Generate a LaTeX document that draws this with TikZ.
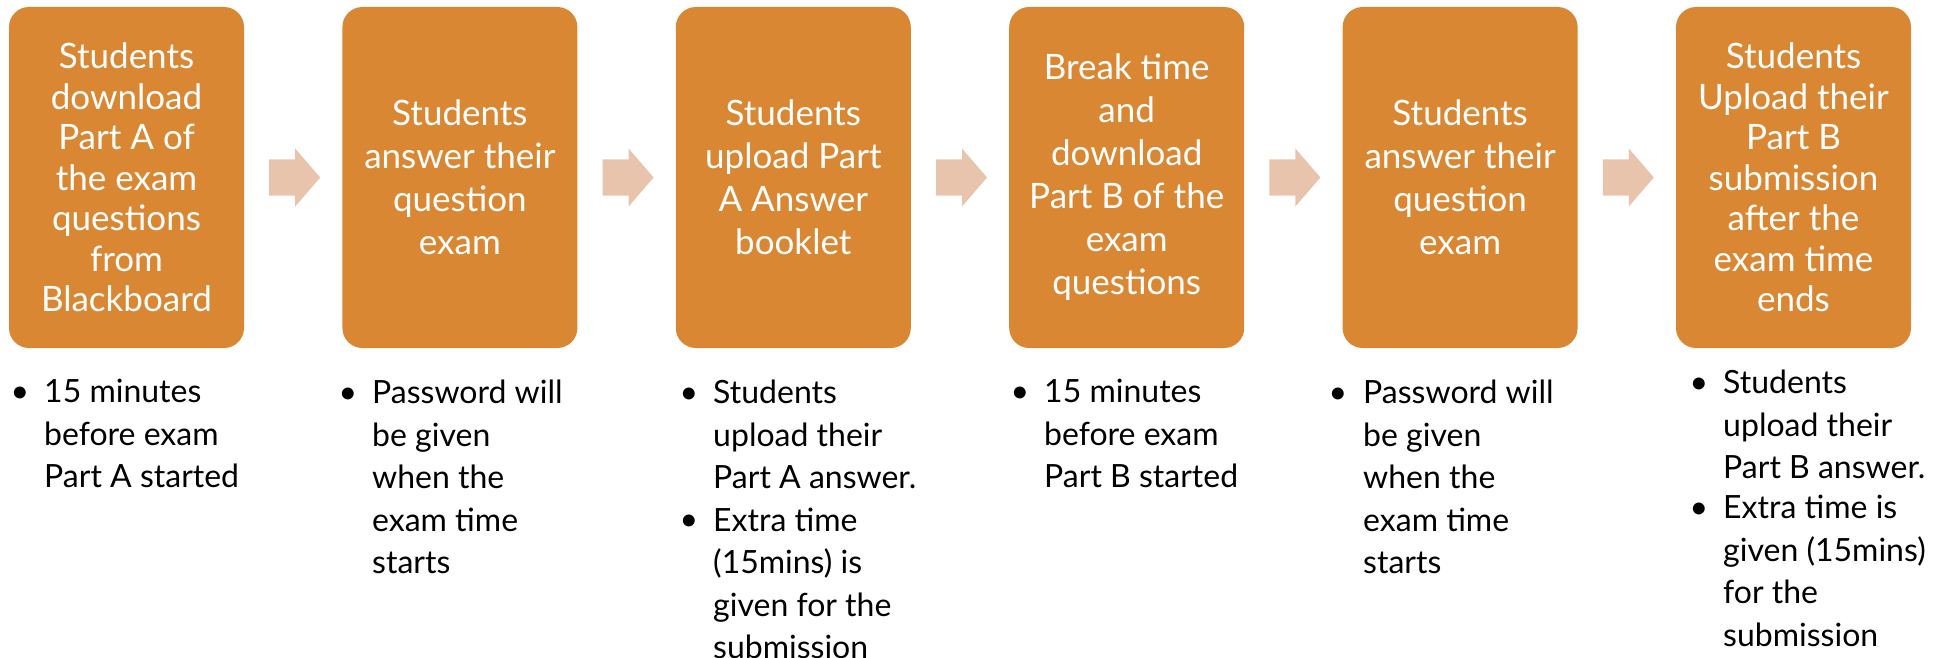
\documentclass[tikz,border=0pt]{standalone}
\usepackage{fontspec}
\setmainfont{Lato}
\usetikzlibrary{calc}
\definecolor{boxc}{HTML}{DA8733}
\definecolor{arrc}{HTML}{E9C4AC}
\tikzset{
  stepbox/.style={fill=boxc, draw=none, rounded corners=20pt, minimum width=235pt, minimum height=341pt, inner sep=0pt,
    text=white, align=center, font=\fontsize{35}{43}\selectfont},
  tallbox/.style={stepbox, font=\fontsize{35}{40.5}\selectfont},
  bultext/.style={anchor=north west, inner sep=0pt, align=left, text=black, font=\fontsize{32}{42.5}\selectfont},
  buldot/.style={anchor=base, inner sep=0pt, text=black, font=\fontsize{32}{42.5}\selectfont},
  flowarrow/.style={fill=arrc, draw=none}
}
\newcommand{\flowarr}[2]{%
  \fill[flowarrow] ($(#1.east)+(25,18)$) -- ++(26,0) -- ++(0,11) -- ++(25,-29) -- ++(-25,-29) -- ++(0,11) -- ++(-26,0) -- cycle;}
\begin{document}
\begin{tikzpicture}[x=1pt,y=-1pt]
\useasboundingbox (0,0) rectangle (1944,658);
\clip (0,0) rectangle (1944,658);
% boxes
\node[tallbox] (b1) at (126.5,177.5) {Students\\download\\Part A of\\the exam\\questions\\from\\Blackboard};
\node[stepbox] (b2) at (459.9,177.5) {Students\\answer their\\question\\exam};
\node[stepbox] (b3) at (793.3,177.5) {Students\\upload Part\\A Answer\\booklet};
\node[stepbox] (b4) at (1126.7,177.5) {Break time\\and\\download\\Part B of the\\exam\\questions};
\node[stepbox] (b5) at (1460.1,177.5) {Students\\answer their\\question\\exam};
\node[tallbox] (b6) at (1793.5,177.5) {Students\\Upload their\\Part B\\submission\\after the\\exam time\\ends};
% arrows
\flowarr{b1}{b2}
\flowarr{b2}{b3}
\flowarr{b3}{b4}
\flowarr{b4}{b5}
\flowarr{b5}{b6}
% bullets column 1
\node[buldot] (d1) at (20,402) {•};
\node[bultext] (t1) at (44,372.6) {\strut 15 minutes\\before exam\\Part A started};
% column 2
\node[buldot] (d2) at (348,403) {•};
\node[bultext] (t2) at (372,373.6) {\strut Password will\\be given\\when the\\exam time\\starts};
% column 3
\node[buldot] (d3a) at (689,403) {•};
\node[bultext] (t3a) at (713,373.6) {\strut Students\\upload their\\Part A answer.};
\node[buldot] (d3b) at (689,530.5) {•};
\node[bultext] (t3b) at (713,501.1) {\strut Extra time\\(15mins) is\\given for the\\submission};
% column 4
\node[buldot] (d4) at (1020,402) {•};
\node[bultext] (t4) at (1044,372.6) {\strut 15 minutes\\before exam\\Part B started};
% column 5
\node[buldot] (d5) at (1338,403) {•};
\node[bultext] (t5) at (1363,373.6) {\strut Password will\\be given\\when the\\exam time\\starts};
% column 6
\node[buldot] (d6a) at (1699,393) {•};
\node[bultext] (t6a) at (1723,363.6) {\strut Students\\upload their\\Part B answer.};
\node[buldot] (d6b) at (1699,518) {•};
\node[bultext] (t6b) at (1723,488.6) {\strut Extra time is\\given (15mins)\\for the\\submission};
\end{tikzpicture}
\end{document}
